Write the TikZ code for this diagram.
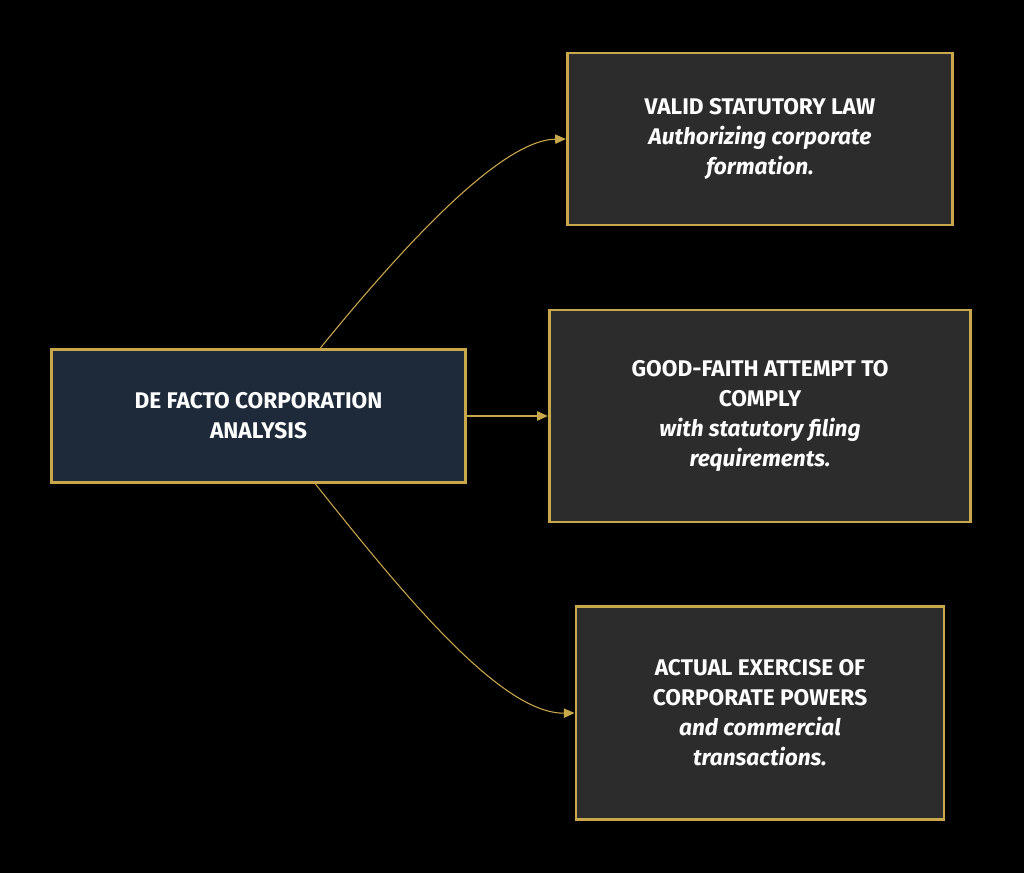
\documentclass[tikz,border=0pt]{standalone}
\usepackage{fontspec}
\setmainfont{Fira Sans}
\usetikzlibrary{arrows.meta}
\definecolor{gold}{RGB}{201,168,76}
\definecolor{navy}{RGB}{30,42,58}
\definecolor{panel}{RGB}{44,44,44}
\tikzset{
  box/.style={draw=gold, line width=2.2pt, text=white, align=center,
    font=\fontsize{17}{22.5}\selectfont\bfseries, inner sep=0pt},
  link/.style={draw=gold, line width=0.8pt, -{Triangle[length=8pt,width=7pt]}}
}
\begin{document}
\begin{tikzpicture}[x=0.75pt,y=-0.75pt]
\fill[black] (0,0) rectangle (1024,873);
\useasboundingbox (0,0) rectangle (1024,873);

% main node
\node[box, fill=navy, minimum width=310pt, minimum height=100pt] (main) at (258.5,416)
  {DE FACTO CORPORATION\\ANALYSIS};

% elements
\node[box, fill=panel, minimum width=289pt, minimum height=129pt] (law) at (760,139)
  {VALID STATUTORY LAW\\\textit{Authorizing corporate}\\\textit{formation.}};
\node[box, fill=panel, minimum width=316pt, minimum height=159pt] (faith) at (760,416)
  {GOOD-FAITH ATTEMPT TO\\COMPLY\\\textit{with statutory filing}\\\textit{requirements.}};
\node[box, fill=panel, minimum width=276pt, minimum height=160pt] (power) at (760,713)
  {ACTUAL EXERCISE OF\\CORPORATE POWERS\\\textit{and commercial}\\\textit{transactions.}};

% connectors
\draw[link] (main.north) ++(62,0) coordinate (m1) .. controls (400,250) and (500,140) .. (law.west);
\draw[link] (main.east) -- (faith.west);
\draw[link] (main.south) ++(57,0) coordinate (m3) .. controls (400,590) and (500,714) .. (power.west);
\end{tikzpicture}
\end{document}
